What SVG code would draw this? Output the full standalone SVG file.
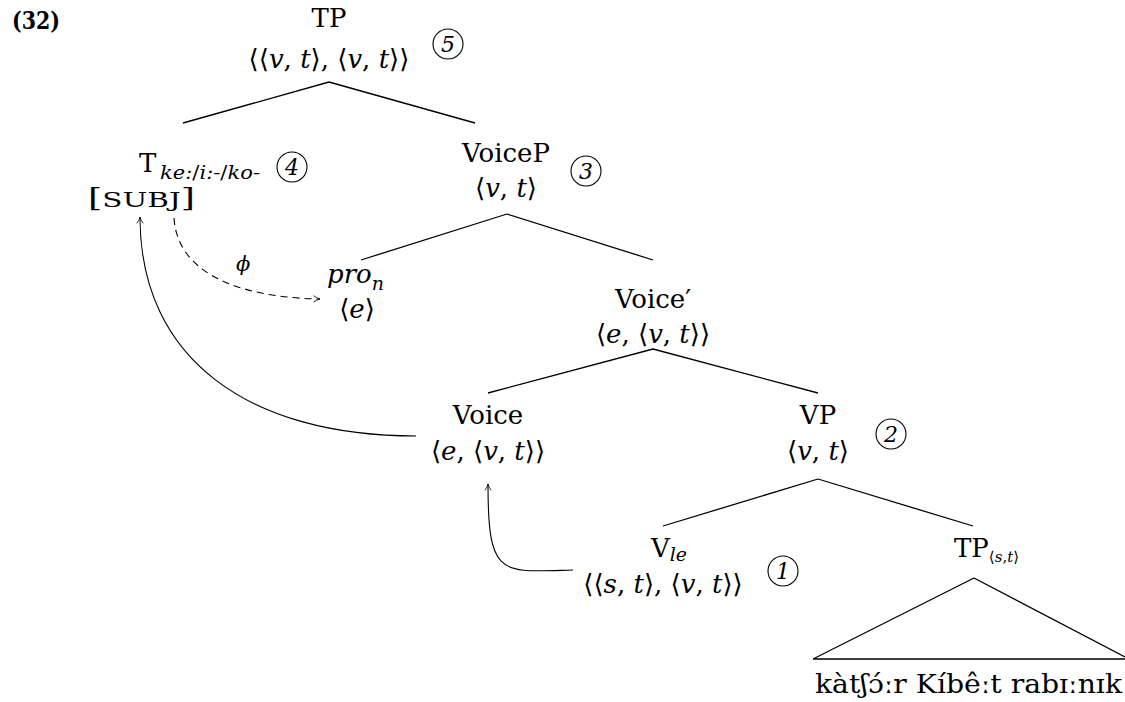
<svg xmlns="http://www.w3.org/2000/svg" width="1125" height="702" viewBox="0 0 1125 702">
<style>
text{font-family:"DejaVu Serif","Liberation Serif",serif;fill:#000;font-size:26px}
.m{text-anchor:middle}
.i{font-style:italic}
.sub{font-size:18px}
.edge{stroke:#000;stroke-width:1.3;fill:none}
.circ{stroke:#000;stroke-width:1.1;fill:none}
.num{font-style:italic;font-size:22px;text-anchor:middle}
</style>
<defs>
<marker id="ah" viewBox="0 0 10 10" refX="9" refY="5" markerWidth="8" markerHeight="8" orient="auto" markerUnits="userSpaceOnUse">
<path d="M1 1 Q5 4 9 5 Q5 6 1 9" fill="none" stroke="#000" stroke-width="1"/>
</marker>
</defs>
<text x="12" y="29" textLength="48" lengthAdjust="spacingAndGlyphs" style="font-weight:bold;font-size:25px">(32)</text>

<g id="edges">
<path class="edge" d="M329 82 L183 123 M329 82 L475 123"/>
<path class="edge" d="M507 214 L361 260 M507 214 L653 260"/>
<path class="edge" d="M653 349 L488 393 M653 349 L818 393"/>
<path class="edge" d="M818 479 L663 526 M818 479 L973 526"/>
<path class="edge" d="M974 578 L813 659 L1125 659 M974 578 L1125 657"/>
<path class="edge" style="stroke-width:1.1" d="M416 436 C250 436 140 360 140 217" marker-end="url(#ah)"/>
<path class="edge" style="stroke-width:1.1;stroke-dasharray:7 5" d="M174 218 C178 282 258 298 320 299" marker-end="url(#ah)"/>
<path class="edge" style="stroke-width:1.1" d="M573 570 C500 572 488 578 488 484" marker-end="url(#ah)"/>
<text x="236" y="271" class="i" style="font-size:21px">ϕ</text>
</g>

<g id="tp">
<text x="329" y="27" class="m">TP</text>
<text x="329" y="68" class="m">⟨⟨<tspan class="i">v</tspan>, <tspan class="i">t</tspan>⟩, ⟨<tspan class="i">v</tspan>, <tspan class="i">t</tspan>⟩⟩</text>
<circle class="circ" cx="448" cy="44" r="15"/><text x="448" y="52" class="num">5</text>
</g>

<g id="t">
<text x="139" y="172">T</text>
<text x="160" y="179" class="sub" textLength="100" lengthAdjust="spacingAndGlyphs"><tspan class="i">ke:</tspan>/<tspan class="i">i:-</tspan>/<tspan class="i">ko-</tspan></text>
<text x="88" y="207" textLength="107" lengthAdjust="spacingAndGlyphs">[<tspan style="font-size:21px">SUBJ</tspan>]</text>
<circle class="circ" cx="292" cy="167" r="15"/><text x="292" y="175" class="num">4</text>
</g>

<g id="voicep">
<text x="506" y="162" class="m">VoiceP</text>
<text x="506" y="197" class="m">⟨<tspan class="i">v</tspan>, <tspan class="i">t</tspan>⟩</text>
<circle class="circ" cx="586" cy="171" r="15"/><text x="586" y="179" class="num">3</text>
</g>

<g id="pro">
<text x="327" y="283" class="i">pro<tspan class="sub" dy="7" style="font-size:19px">n</tspan></text>
<text x="357" y="318" class="m">⟨<tspan class="i">e</tspan>⟩</text>
</g>

<g id="voicebar">
<text x="653" y="308" class="m">Voice′</text>
<text x="653" y="343" class="m">⟨<tspan class="i">e</tspan>, ⟨<tspan class="i">v</tspan>, <tspan class="i">t</tspan>⟩⟩</text>
</g>

<g id="voice">
<text x="488" y="424" class="m">Voice</text>
<text x="488" y="460" class="m">⟨<tspan class="i">e</tspan>, ⟨<tspan class="i">v</tspan>, <tspan class="i">t</tspan>⟩⟩</text>
</g>

<g id="vp">
<text x="818" y="424" class="m">VP</text>
<text x="818" y="460" class="m">⟨<tspan class="i">v</tspan>, <tspan class="i">t</tspan>⟩</text>
<circle class="circ" cx="891" cy="434" r="15"/><text x="891" y="442" class="num">2</text>
</g>

<g id="vle">
<text x="651" y="557">V<tspan class="sub i" dy="4" style="font-size:19px">le</tspan></text>
<text x="663" y="593" class="m">⟨⟨<tspan class="i">s</tspan>, <tspan class="i">t</tspan>⟩, ⟨<tspan class="i">v</tspan>, <tspan class="i">t</tspan>⟩⟩</text>
<circle class="circ" cx="783" cy="571" r="15"/><text x="783" y="579" class="num">1</text>
</g>

<g id="tpst">
<text x="954" y="557">TP<tspan dy="5" style="font-size:15px">⟨<tspan class="i">s</tspan>,<tspan class="i">t</tspan>⟩</tspan></text>
<text x="815" y="693" textLength="307" lengthAdjust="spacingAndGlyphs">kàtʃɔ́ːr Kíbêːt rabɪːnɪk</text>
</g>
</svg>
